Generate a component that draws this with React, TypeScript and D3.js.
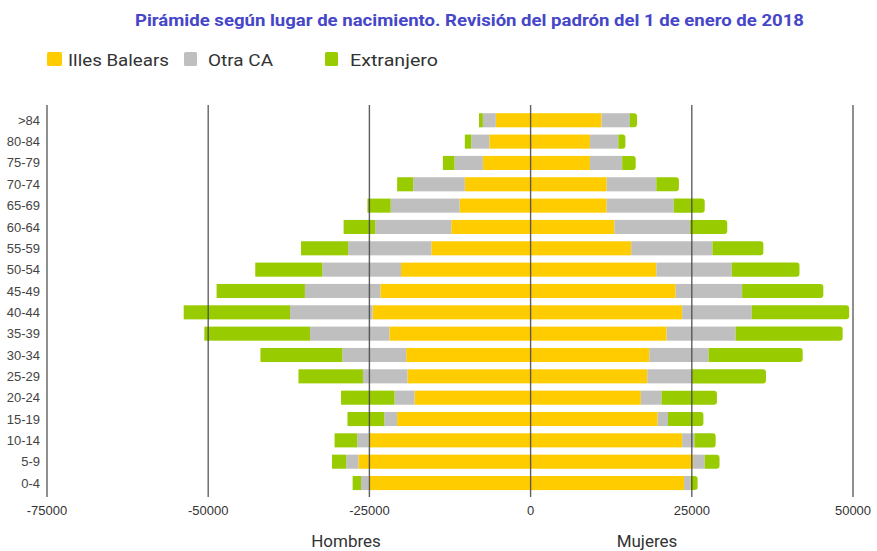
import React from "react";
import * as d3 from "d3";

const ageGroups = [">84", "80-84", "75-79", "70-74", "65-69", "60-64", "55-59", "50-54", "45-49", "40-44", "35-39", "30-34", "25-29", "20-24", "15-19", "10-14", "5-9", "0-4"];
const seriesNames = ["Illes Balears", "Otra CA", "Extranjero"];
const seriesColors = ["#FFCC00", "#BFBFBF", "#99CC00"];

// Hombres (men), thousands of people per segment
const menBaleares = [5.4, 6.4, 7.4, 10.2, 11.0, 12.3, 15.4, 20.1, 23.3, 24.5, 21.9, 19.3, 19.1, 18.0, 20.7, 25.1, 26.7, 25.1];
const menOtraCA = [2.0, 2.8, 4.4, 8.0, 10.7, 11.8, 12.9, 12.2, 11.7, 12.8, 12.3, 9.9, 6.9, 3.1, 2.0, 1.8, 1.9, 1.2];
const menExtranjero = [0.6, 1.0, 1.8, 2.5, 3.6, 4.9, 7.3, 10.4, 13.7, 16.5, 16.4, 12.7, 10.0, 8.3, 5.7, 3.5, 2.2, 1.3];

// Mujeres (women)
const womenBaleares = [11.0, 9.2, 9.2, 11.8, 11.8, 13.0, 15.6, 19.5, 22.5, 23.5, 21.1, 18.4, 18.1, 17.1, 19.7, 23.5, 25.2, 23.8];
const womenOtraCA = [4.4, 4.4, 5.0, 7.7, 10.4, 11.7, 12.6, 11.7, 10.3, 10.8, 10.7, 9.2, 6.9, 3.2, 1.6, 1.9, 1.8, 1.0];
const womenExtranjero = [1.1, 1.1, 2.1, 3.5, 4.8, 5.8, 7.9, 10.5, 12.6, 15.1, 16.6, 14.6, 11.5, 8.6, 5.5, 3.3, 2.3, 1.1];

const xTicks = [-75000, -50000, -25000, 0, 25000, 50000];
const titleText = "Pirámide según lugar de nacimiento. Revisión del padrón del 1 de enero de 2018";

const W = 877;
const H = 551;

export default function App() {
  const x = d3.scaleLinear().domain([-75000, 50000]).range([47, 853]);
  const y = d3
    .scaleBand<string>()
    .domain(ageGroups)
    .range([109.6, 493.7])
    .paddingInner(0.34)
    .paddingOuter(0.17);

  const menSeries = [menBaleares, menOtraCA, menExtranjero];
  const womenSeries = [womenBaleares, womenOtraCA, womenExtranjero];

  const bars: React.ReactNode[] = [];
  ageGroups.forEach((g, i) => {
    let cumM = 0;
    menSeries.forEach((s, k) => {
      const v = s[i] * 1000;
      const x0 = x(-(cumM + v));
      const x1 = x(-cumM);
      bars.push(
        <rect key={`m${i}-${k}`} x={x0} y={y(g)} width={x1 - x0} height={y.bandwidth()} fill={seriesColors[k]} />
      );
      cumM += v;
    });
    let cumW = 0;
    womenSeries.forEach((s, k) => {
      const v = s[i] * 1000;
      const x0 = x(cumW);
      const x1 = x(cumW + v);
      const yy = y(g)!;
      const h = y.bandwidth();
      if (k === 2) {
        const r = 3;
        const d = `M${x0},${yy} H${x1 - r} Q${x1},${yy} ${x1},${yy + r} V${yy + h - r} Q${x1},${yy + h} ${x1 - r},${yy + h} H${x0} Z`;
        bars.push(<path key={`w${i}-${k}`} d={d} fill={seriesColors[k]} />);
      } else {
        bars.push(<rect key={`w${i}-${k}`} x={x0} y={yy} width={x1 - x0} height={h} fill={seriesColors[k]} />);
      }
      cumW += v;
    });
  });

  const legendItems = [
    { sx: 47, tx: 68, tw: 101 },
    { sx: 184, tx: 208, tw: 65 },
    { sx: 325, tx: 350, tw: 88 },
  ];

  return (
    <svg width={W} height={H} style={{ position: "absolute", left: 0, top: 0, background: "#fff" }}>
      <rect width={W} height={H} fill="#fff" />
      <text
        x={135}
        y={26}
        fontFamily="Roboto, 'Noto Sans', sans-serif"
        fontWeight={700}
        fontSize={16.5}
        fill="#4646C8"
        textLength={669}
        lengthAdjust="spacingAndGlyphs"
      >
        {titleText}
      </text>
      {seriesNames.map((n, k) => (
        <g key={n}>
          <rect x={legendItems[k].sx} y={52} width={k === 0 ? 15 : 13} height={14} rx={1.5} fill={seriesColors[k]} />
          <text
            x={legendItems[k].tx}
            y={66}
            fontFamily="Roboto, 'Noto Sans', sans-serif"
            fontSize={17}
            fill="#333"
            textLength={legendItems[k].tw}
            lengthAdjust="spacingAndGlyphs"
          >
            {n}
          </text>
        </g>
      ))}
      {bars}
      {xTicks.map((t) => (
        <line key={t} x1={x(t)} x2={x(t)} y1={105} y2={497} stroke="#444" strokeWidth={1.4} strokeOpacity={0.85} />
      ))}
      {ageGroups.map((g) => (
        <text
          key={g}
          x={40}
          y={y(g)! + y.bandwidth() / 2}
          dy="0.35em"
          textAnchor="end"
          fontFamily="'Liberation Sans', Arial, sans-serif"
          fontSize={13}
          fill="#444"
        >
          {g}
        </text>
      ))}
      {xTicks.map((t) => (
        <text
          key={`l${t}`}
          x={x(t)}
          y={515}
          textAnchor="middle"
          fontFamily="'Liberation Sans', Arial, sans-serif"
          fontSize={13}
          fill="#333"
        >
          {t}
        </text>
      ))}
      <text x={346} y={547} textAnchor="middle" fontFamily="Roboto, 'Noto Sans', sans-serif" fontSize={17} fill="#333">
        Hombres
      </text>
      <text x={647} y={547} textAnchor="middle" fontFamily="Roboto, 'Noto Sans', sans-serif" fontSize={17} fill="#333">
        Mujeres
      </text>
    </svg>
  );
}
